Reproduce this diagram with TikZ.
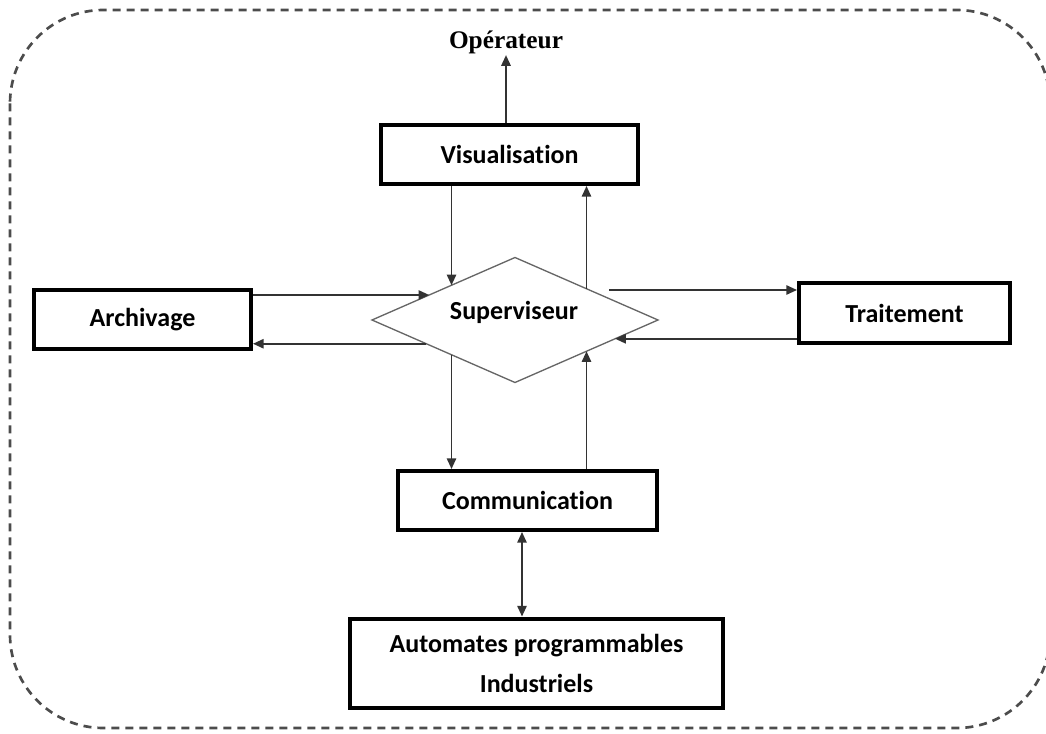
\documentclass[tikz,border=0pt]{standalone}
\usepackage{fontspec}
\setmainfont[Ligatures=NoCommon]{Carlito}
\newfontfamily\timesfont{Liberation Serif}
\usetikzlibrary{arrows.meta,shapes.geometric,calc}
\begin{document}
\begin{tikzpicture}[x=0.75pt,y=-0.75pt,
  box/.style={draw=black, line width=3pt, fill=white, inner sep=0pt,
    font=\bfseries\fontsize{19.5}{30}\selectfont, align=center},
  tip/.tip={Triangle[length=8pt,width=7pt]},
  conn/.style={draw=black!80, line width=1.3pt, -tip},
  conn2/.style={draw=black!80, line width=1.3pt, tip-tip},
  lbl/.style={font=\bfseries\fontsize{19.5}{23}\selectfont, inner sep=0pt},
]
\useasboundingbox (0,0) rectangle (1046,734);
\draw[black!70, line width=2pt, dash pattern=on 6pt off 4.5pt, rounded corners=70pt]
  (10,10) rectangle (1050,728);

\node[font=\timesfont\bfseries\fontsize{19}{22}\selectfont, inner sep=1pt] (op) at (506,42) {Opérateur};
\node[box, minimum width=192.75pt, minimum height=44.25pt] (vis) at (509.5,154.5) {Visualisation};
\node[box, minimum width=162.75pt, minimum height=44.25pt] (arch) at (142.5,319.5) {Archivage};
\node[box, minimum width=158.25pt, minimum height=45pt] (trait) at (904.5,313) {Traitement};
\node[box, minimum width=194.25pt, minimum height=44.25pt] (comm) at (527.5,500.5) {Communication};
\node[box, minimum width=279.75pt, minimum height=66.75pt] (auto) at (536.5,663) {Automates programmables\\Industriels};
\node[diamond, draw=black!60, line width=1pt, minimum width=214.5pt, minimum height=93.75pt,
  inner sep=0pt, outer sep=0pt] (sup) at (515,320) {};
\node[lbl] (suplbl) at (514,312) {Superviseur};

\coordinate (p1) at ($(sup.west)!0.4!(sup.north)$);
\coordinate (p2) at ($(sup.west)!0.38!(sup.south)$);
\coordinate (p3) at ($(sup.west)!0.556!(sup.north)$);
\coordinate (p4) at ($(sup.north)!0.5!(sup.east)$);
\coordinate (p5) at ($(sup.east)!0.48!(sup.north)$);
\coordinate (p6) at ($(sup.east)!0.30!(sup.south)$);
\coordinate (p7) at ($(sup.west)!0.556!(sup.south)$);
\coordinate (p8) at ($(sup.south)!0.5!(sup.east)$);
\coordinate (cx) at (522,0);

\draw[conn] (vis.north -| op) -- (op.south);
\draw[conn] (vis.south -| p3) -- (p3);
\draw[conn] (p4) -- (vis.south -| p4);
\draw[conn] (arch.east |- p1) -- (p1);
\draw[conn] (p2) -- (arch.east |- p2);
\draw[conn] ([xshift=15pt]p5) -- (trait.west |- p5);
\draw[conn] (trait.west |- p6) -- (p6);
\draw[conn] (p7) -- (comm.north -| p7);
\draw[conn] (comm.north -| p8) -- (p8);
\draw[conn2] (comm.south -| cx) -- (auto.north -| cx);
\end{tikzpicture}
\end{document}
